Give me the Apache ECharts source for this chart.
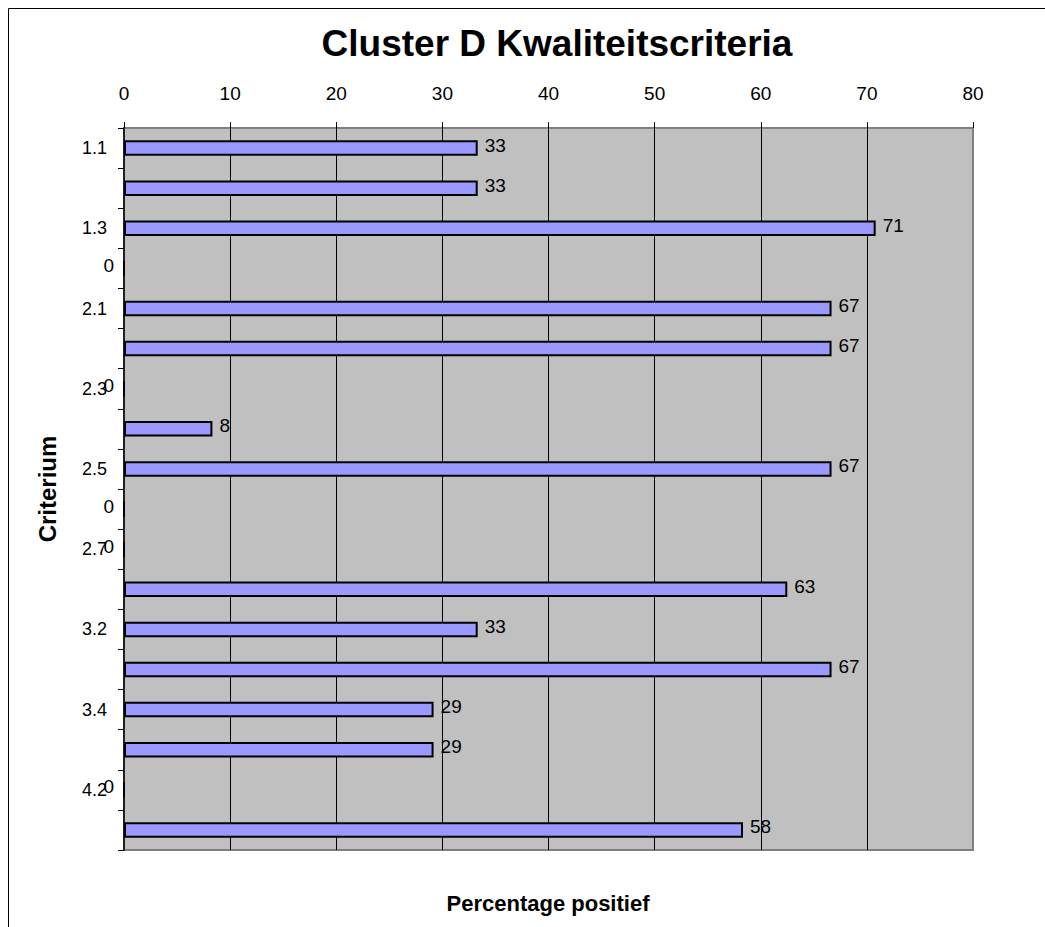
<!DOCTYPE html>
<html>
<head>
<meta charset="utf-8">
<script src="https://cdn.jsdelivr.net/npm/echarts@6/dist/echarts.min.js"></script>
<style>
  html, body { margin: 0; padding: 0; background: #fff; }
  #chart { width: 1045px; height: 927px; }
</style>
</head>
<body>
<div id="chart"></div>
<script>
// Criteria (top to bottom) and the share of positive answers per criterion
const criteria = ['1.1', '1.2', '1.3', '1.4', '2.1', '2.2', '2.3', '2.4', '2.5', '2.6',
                  '2.7', '3.1', '3.2', '3.3', '3.4', '3.5', '4.2', '4.3'];
const percentPositive = [33.33, 33.33, 70.83, 0, 66.67, 66.67, 0, 8.33, 66.67, 0,
                         0, 62.5, 33.33, 66.67, 29.17, 29.17, 0, 58.33];
const percentTicks = { min: 0, max: 80, step: 10 };

const FONT = "'Liberation Sans', Arial, sans-serif";

// Zero values get their label on the left side of the axis
const barData = percentPositive.map(v => (v === 0
  ? { value: v, label: { position: 'left', distance: 9 } }
  : { value: v }));

const chart = echarts.init(document.getElementById('chart'), null, { renderer: 'svg' });

chart.setOption({
  backgroundColor: '#ffffff',
  animation: false,
  textStyle: { fontFamily: FONT },
  title: [
    {
      text: 'Cluster D Kwaliteitscriteria',
      left: 557, top: 25, padding: 0, textAlign: 'center',
      textStyle: { fontFamily: FONT, fontSize: 37, fontWeight: 'bold', color: '#000' }
    },
    {
      text: 'Percentage positief',
      left: 548, top: 892, padding: 0, textAlign: 'center',
      textStyle: { fontFamily: FONT, fontSize: 22, fontWeight: 'bold', color: '#000' }
    }
  ],
  graphic: [{
    type: 'rect',
    shape: { x: 8.5, y: 8.5, width: 1100, height: 1000 },
    style: { fill: 'none', stroke: '#000', lineWidth: 1 },
    silent: true, z: -1
  }],
  grid: {
    left: 124, top: 128, width: 849, height: 722,
    show: true, backgroundColor: '#C0C0C0',
    borderColor: '#808080', borderWidth: 2
  },
  xAxis: {
    type: 'value',
    position: 'top',
    min: percentTicks.min, max: percentTicks.max, interval: percentTicks.step,
    axisLine: { show: false },
    axisTick: { show: true, length: 6, lineStyle: { color: '#000', width: 1 } },
    axisLabel: { margin: 25, fontSize: 19, color: '#000', fontFamily: FONT },
    splitLine: { show: true, showMinLine: false, showMaxLine: false,
                 lineStyle: { color: '#000', width: 1 } }
  },
  yAxis: {
    type: 'category',
    data: criteria,
    inverse: true,
    name: 'Criterium',
    nameLocation: 'middle',
    nameRotate: 90,
    nameGap: 65,
    nameTextStyle: { fontFamily: FONT, fontSize: 24, fontWeight: 'bold', color: '#000' },
    axisLine: { show: true, lineStyle: { color: '#000', width: 1.5 } },
    axisTick: { show: true, length: 6, interval: 0, lineStyle: { color: '#000', width: 1 } },
    axisLabel: { interval: 1, margin: 17, fontSize: 18, color: '#000', fontFamily: FONT },
    splitLine: { show: false }
  },
  series: [{
    type: 'bar',
    data: barData,
    barWidth: 15.5,
    itemStyle: { color: '#9999FF', borderColor: '#000', borderWidth: 2 },
    label: {
      show: true,
      position: 'right',
      distance: 7,
      offset: [0, -3],
      fontFamily: FONT,
      fontSize: 19,
      color: '#000',
      formatter: p => String(Math.round(p.value))
    }
  }]
});
</script>
</body>
</html>
